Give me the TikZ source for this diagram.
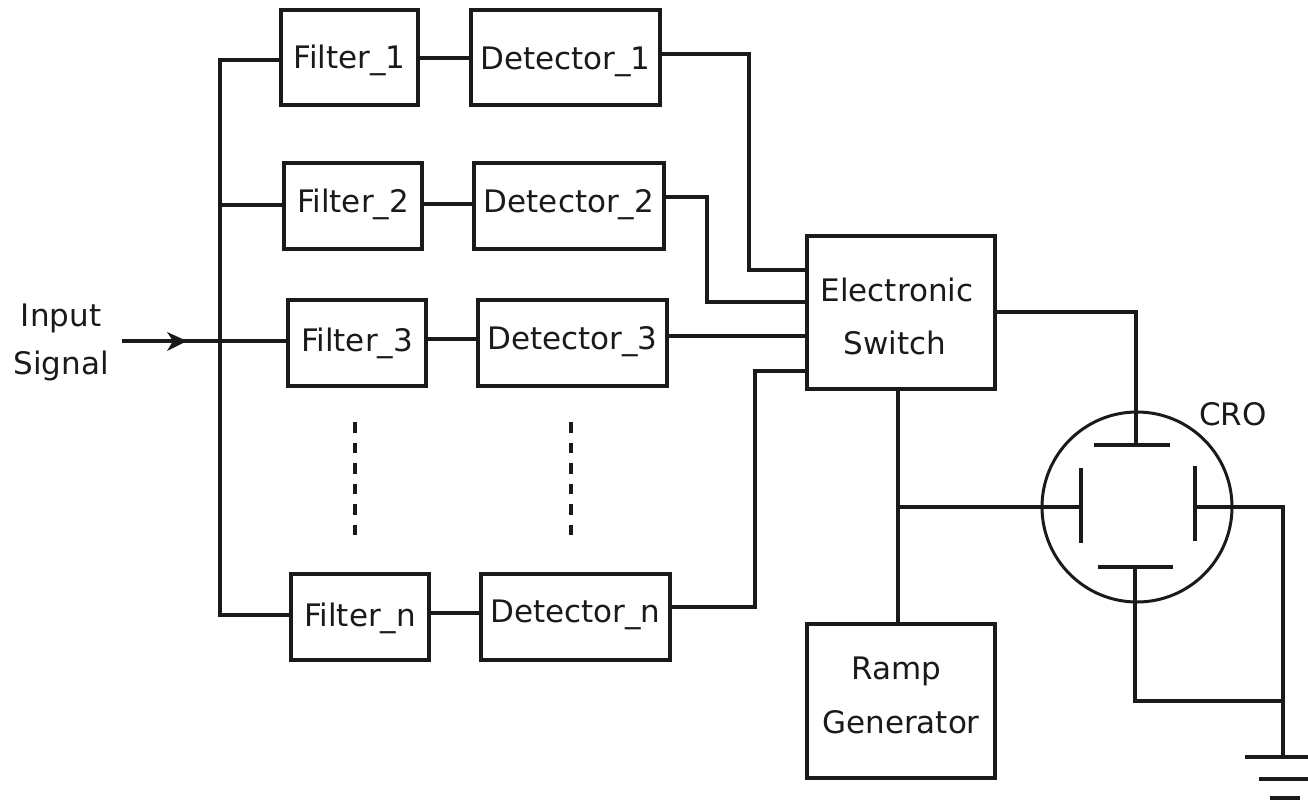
\documentclass[tikz,border=0pt]{standalone}
\usepackage{fontspec}
\setmainfont{DejaVu Sans}
\usetikzlibrary{arrows.meta}
\definecolor{ink}{HTML}{1A1A1A}
\tikzset{
  every node/.style={text=ink},
  lbl/.style={font=\fontsize{31}{36}\selectfont},
  block/.style={draw=ink,line width=3.5pt,lbl,inner sep=0pt},
  wire/.style={draw=ink,line width=3.2pt,line join=miter},
  plate/.style={draw=ink,line width=3.4pt},
  dots/.style={draw=ink,line width=4pt,dash pattern=on 10.5pt off 10pt}
}
\newcommand{\tx}[2]{\raisebox{#1pt}[22.6pt][0pt]{#2}}
\newcommand{\boxat}[6]{\node[block,minimum width=#4pt-#3pt,minimum height=#6pt-#5pt] (#1) at ({(#3+#4)/2},{(#5+#6)/2}) {#2};}
\begin{document}
\begin{tikzpicture}[x=1pt,y=-1pt]
\useasboundingbox (0,0) rectangle (1308,803);
\boxat{F1}{\tx{0.5}{Filter\_1}}{281}{418}{10}{105}
\boxat{D1}{\tx{-0.5}{Detector\_1}}{471}{660}{10}{105}
\boxat{F2}{\tx{5}{Filter\_2}}{284}{422}{163}{249}
\boxat{D2}{\tx{5}{Detector\_2}}{474}{664}{163}{249}
\boxat{F3}{\tx{3}{Filter\_3}}{288}{426}{300}{386}
\boxat{D3}{\tx{5}{Detector\_3}}{478}{667}{300}{386}
\boxat{Fn}{\tx{2}{Filter\_n}}{291}{429}{574}{660}
\boxat{Dn}{\tx{6}{Detector\_n}}{481}{670}{574}{660}
\node[block,minimum width=188pt,minimum height=153pt,align=center,font=\fontsize{31}{53}\selectfont] (ES) at (901,312.5) {\tx{-4}{Electronic\hspace{8pt}}\\\tx{-4}{Switch\hspace{12pt}}};
\node[block,minimum width=188pt,minimum height=154pt,align=center,font=\fontsize{31}{54}\selectfont] (RG) at (901,701) {\tx{6}{Ramp\hspace{10pt}}\\\tx{6}{Generator}};
\node[draw=ink,line width=3pt,circle,minimum size=190pt,inner sep=0pt] (CRT) at (1137,507) {};
\node[lbl,align=center,font=\fontsize{31}{48}\selectfont] (IN) at (61,339) {\tx{0}{Input}\\\tx{0}{Signal}};
\node[lbl] (CROL) at (1233,414) {CRO};
% input bus
\coordinate (b1) at (220,60);
\coordinate (b2) at (220,205);
\coordinate (b3) at (220,341);
\coordinate (bn) at (220,615);
\coordinate (src) at (122,341);
\draw[wire] (bn -| Fn.west) -- (bn) -- (b1) -- (b1 -| F1.west);
\draw[wire] (b2) -- (b2 -| F2.west);
\draw[wire] (src) -- (b3 -| F3.west);
\draw[draw=none,fill=ink] (187,341) -- (167,332) -- (173,341) -- (167,351) -- cycle;
% filter to detector
\coordinate (y1) at (0,58);
\coordinate (y2) at (0,204);
\coordinate (y3) at (0,339);
\coordinate (yn) at (0,613);
\draw[wire] (F1.east |- y1) -- (D1.west |- y1);
\draw[wire] (F2.east |- y2) -- (D2.west |- y2);
\draw[wire] (F3.east |- y3) -- (D3.west |- y3);
\draw[wire] (Fn.east |- yn) -- (Dn.west |- yn);
% detectors to switch
\coordinate (k1) at (749,54);
\coordinate (j1) at (749,270);
\coordinate (k2) at (707,197);
\coordinate (j2) at (707,302);
\coordinate (j3) at (807,336);
\coordinate (kn) at (755,607);
\coordinate (jn) at (755,371);
\draw[wire] (k1 -| D1.east) -- (k1) -- (j1) -- (j1 -| ES.west);
\draw[wire] (k2 -| D2.east) -- (k2) -- (j2) -- (j2 -| ES.west);
\draw[wire] (j3 -| D3.east) -- (j3);
\draw[wire] (kn -| Dn.east) -- (kn) -- (jn) -- (jn -| ES.west);
% dashed continuation
\coordinate (p1) at (355,422);
\coordinate (p2) at (355,536);
\coordinate (q1) at (571,422);
\coordinate (q2) at (571,536);
\draw[dots] (p1) -- (p2);
\draw[dots] (q1) -- (q2);
% plates
\coordinate (tp) at (1136,445);
\coordinate (lp) at (1081,507);
\coordinate (rp) at (1195,507);
\coordinate (bp) at (1135,567);
\draw[plate] (1094,445) -- (1170,445);
\draw[plate] (1081,468) -- (1081,543);
\draw[plate] (1195,466) -- (1195,541);
\draw[plate] (1098,567) -- (1173,567);
% switch to CRO
\coordinate (e1) at (1136,312);
\draw[wire] (e1 -| ES.east) -- (e1) -- (tp);
\coordinate (jr) at (898,507);
\draw[wire] (ES.south -| jr) -- (RG.north -| jr);
\draw[wire] (jr) -- (lp);
% ground
\coordinate (gc) at (1283,507);
\coordinate (gj) at (1283,701);
\coordinate (gg) at (1283,757);
\coordinate (gb) at (1135,701);
\draw[wire] (rp) -- (gc) -- (gg);
\draw[wire] (bp) -- (gb) -- (gj);
\draw[wire] (1245,757) -- (1308,757);
\draw[wire] (1259,779) -- (1308,779);
\draw[wire] (1270,798) -- (1300,798);
\end{tikzpicture}
\end{document}
